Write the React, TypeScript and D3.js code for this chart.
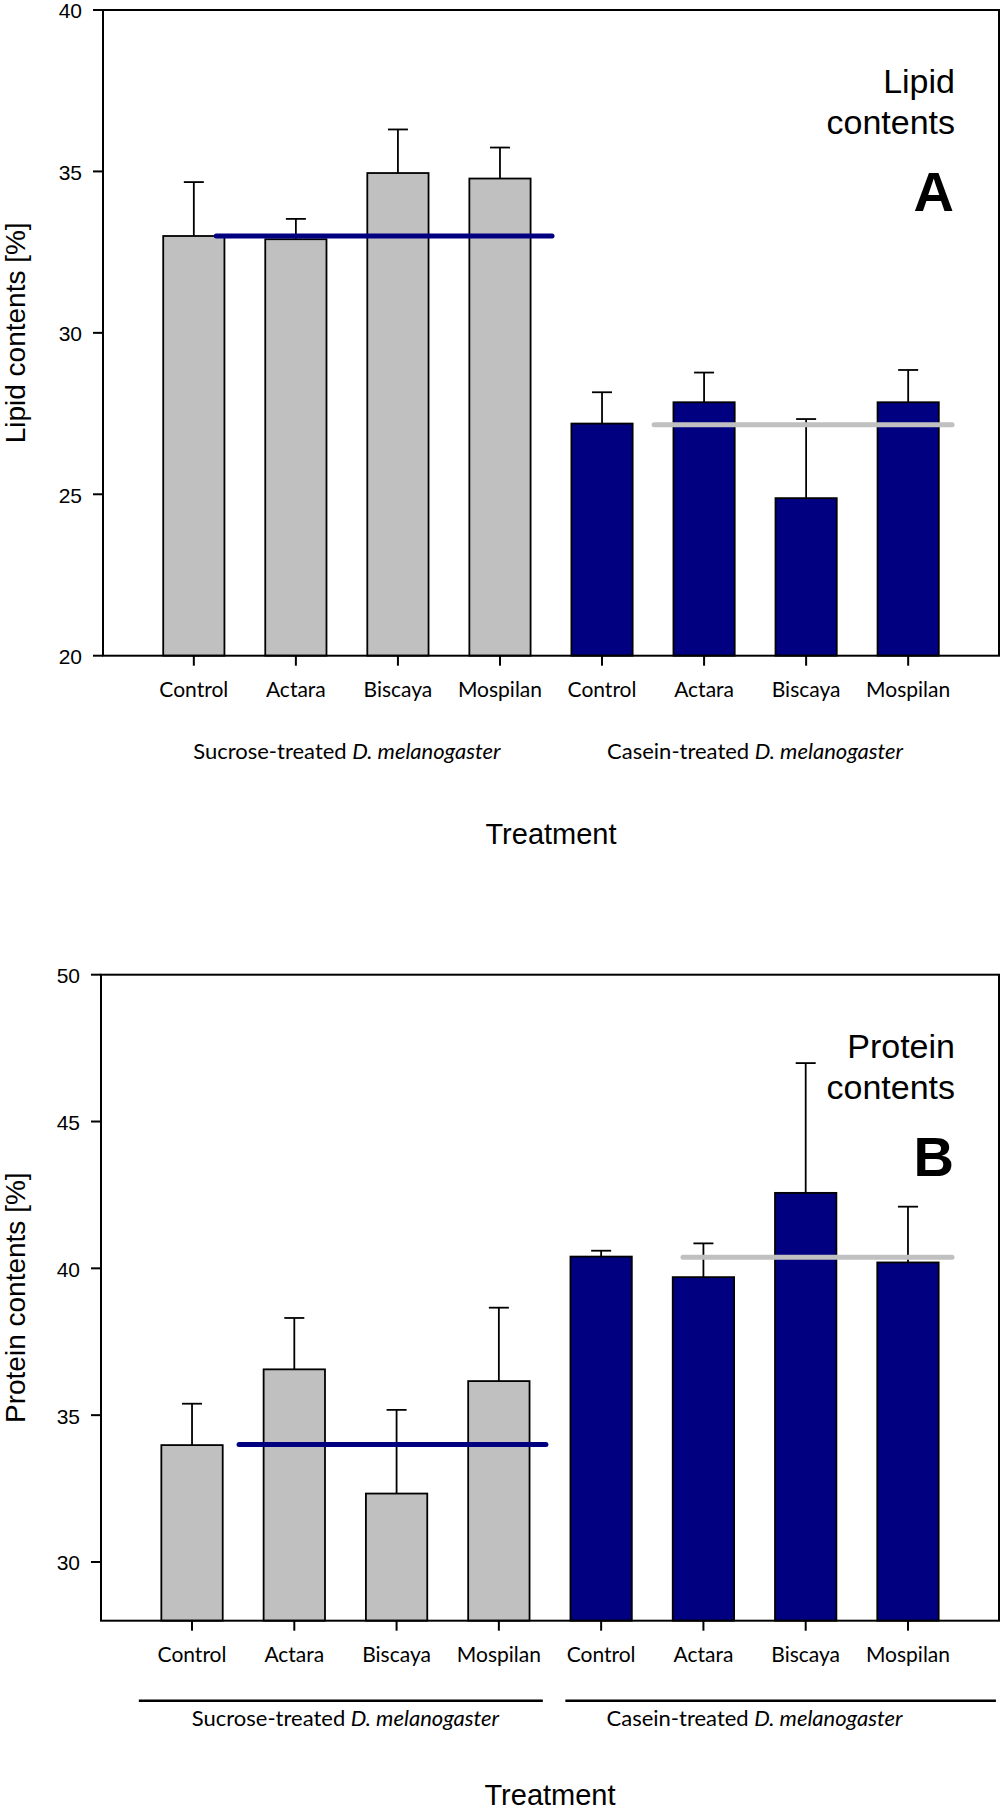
import React from "react";
import * as d3 from "d3";

// categories
const treatments = ["Control", "Actara", "Biscaya", "Mospilan"];
const dietGroups = ["Sucrose-treated", "Casein-treated"];
const categories = dietGroups.flatMap((g) => treatments.map((t) => `${g} ${t}`));

// panel A: lipid contents [%]
const lipidMeans = [33.0, 32.9, 34.95, 34.78, 27.19, 27.85, 24.88, 27.85];
const lipidUpper = [34.67, 33.53, 36.3, 35.74, 28.16, 28.77, 27.33, 28.85];
const lipidTicks = [20, 25, 30, 35, 40];
const lipidControlLines = [33.0, 27.15];

// panel B: protein contents [%]
const proteinMeans = [33.98, 36.56, 32.33, 36.16, 40.4, 39.7, 42.57, 40.2];
const proteinUpper = [35.39, 38.31, 35.18, 38.66, 40.6, 40.85, 46.99, 42.1];
const proteinTicks = [30, 35, 40, 45, 50];
const proteinControlLines = [34.0, 40.38];

const GREY = "#c0c0c0";
const NAVY = "#000080";
const ARIAL = "'Liberation Sans', Arial, sans-serif";
const CALIBRI = "Lato, 'Open Sans', sans-serif";

type PanelProps = {
  top: number;
  bottom: number;
  left: number;
  right: number;
  domain: [number, number];
  ticks: number[];
  means: number[];
  upper: number[];
  controlLines: number[];
  lineSpans: [number, number][]; // in steps relative to group's first / last bar centre
  yTitle: string;
  titleLines: string[];
  letter: string;
  groupRule: boolean;
  groupLabelDy: number;
  treatmentDy: number;
};

const Panel = (p: PanelProps) => {
  const x = d3
    .scaleBand<string>()
    .domain(categories)
    .range([p.left, p.right])
    .paddingInner(0.4)
    .paddingOuter(0.59);
  const step = x.step();
  const bw = x.bandwidth();
  const cx = (i: number) => (x(categories[i]) as number) + bw / 2;
  const y = d3.scaleLinear().domain(p.domain).range([p.bottom, p.top]);
  const base = y(p.domain[0]);
  const midY = (p.top + p.bottom) / 2;
  const midX = (p.left + p.right) / 2;

  const groupCentre = (g: number) => (cx(g * 4) + cx(g * 4 + 3)) / 2;
  const ruleSpans: [number, number][] = [
    [-0.52, 0.43],
    [-0.35, 0.86],
  ];

  return (
    <g>
      {/* bars */}
      {p.means.map((m, i) => (
        <rect
          key={`bar${i}`}
          x={x(categories[i])}
          y={y(m)}
          width={bw}
          height={base - y(m)}
          fill={i < 4 ? GREY : NAVY}
          stroke="#000"
          strokeWidth={1.8}
        />
      ))}
      {/* error bars (upper only) */}
      {p.upper.map((u, i) => (
        <g key={`err${i}`} stroke="#000" strokeWidth={1.8}>
          <line x1={cx(i)} x2={cx(i)} y1={y(p.means[i])} y2={y(u)} />
          <line x1={cx(i) - 10} x2={cx(i) + 10} y1={y(u)} y2={y(u)} />
        </g>
      ))}
      {/* control reference lines */}
      {p.controlLines.map((v, g) => (
        <line
          key={`ref${g}`}
          x1={cx(g * 4) + p.lineSpans[g][0] * step}
          x2={cx(g * 4 + 3) + p.lineSpans[g][1] * step}
          y1={y(v)}
          y2={y(v)}
          stroke={g === 0 ? NAVY : GREY}
          strokeWidth={5}
          strokeLinecap="round"
        />
      ))}
      {/* frame */}
      <rect
        x={p.left}
        y={p.top}
        width={p.right - p.left}
        height={p.bottom - p.top}
        fill="none"
        stroke="#000"
        strokeWidth={2}
      />
      {/* y ticks */}
      {p.ticks.map((t) => (
        <g key={`yt${t}`}>
          <line x1={p.left - 10} x2={p.left} y1={y(t)} y2={y(t)} stroke="#000" strokeWidth={2} />
          <text
            x={p.left - 21}
            y={y(t)}
            dy="0.4em"
            textAnchor="end"
            fontFamily={ARIAL}
            fontSize={21}
          >
            {t}
          </text>
        </g>
      ))}
      <text
        transform={`translate(25,${midY}) rotate(-90)`}
        textAnchor="middle"
        fontFamily={ARIAL}
        fontSize={28}
      >
        {p.yTitle}
      </text>
      {/* x ticks + labels */}
      {categories.map((c, i) => (
        <g key={`xt${i}`}>
          <line x1={cx(i)} x2={cx(i)} y1={p.bottom} y2={p.bottom + 10} stroke="#000" strokeWidth={2} />
          <text x={cx(i)} y={p.bottom + 41} textAnchor="middle" fontFamily={CALIBRI} fontSize={21}>
            {treatments[i % 4]}
          </text>
        </g>
      ))}
      {/* group labels */}
      {dietGroups.map((g, gi) => (
        <g key={`grp${gi}`}>
          {p.groupRule && (
            <line
              x1={cx(gi * 4) + ruleSpans[gi][0] * step}
              x2={cx(gi * 4 + 3) + ruleSpans[gi][1] * step}
              y1={p.bottom + 80}
              y2={p.bottom + 80}
              stroke="#000"
              strokeWidth={2.5}
            />
          )}
          <text
            x={groupCentre(gi)}
            y={p.bottom + p.groupLabelDy}
            textAnchor="middle"
            fontFamily={CALIBRI}
            fontSize={22}
          >
            {g} <tspan fontStyle="italic">D. melanogaster</tspan>
          </text>
        </g>
      ))}
      <text
        x={midX}
        y={p.bottom + p.treatmentDy}
        textAnchor="middle"
        fontFamily={ARIAL}
        fontSize={29}
      >
        Treatment
      </text>
      {/* panel title */}
      {p.titleLines.map((l, i) => (
        <text
          key={`tl${i}`}
          x={p.right - 44}
          y={p.top + 83 + i * 41}
          textAnchor="end"
          fontFamily={ARIAL}
          fontSize={34}
        >
          {l}
        </text>
      ))}
      <text
        x={p.right - 45}
        y={p.top + 201}
        textAnchor="end"
        fontFamily={ARIAL}
        fontWeight="bold"
        fontSize={56}
      >
        {p.letter}
      </text>
    </g>
  );
};

const App = () => {
  return (
    <svg
      width={1003}
      height={1813}
      style={{ position: "absolute", left: 0, top: 0, background: "#fff" }}
    >
      <Panel
        top={10}
        bottom={655.7}
        left={103}
        right={999}
        domain={[20, 40]}
        ticks={lipidTicks}
        means={lipidMeans}
        upper={lipidUpper}
        controlLines={lipidControlLines}
        lineSpans={[
          [0.22, 0.51],
          [0.51, 0.43],
        ]}
        yTitle="Lipid contents [%]"
        titleLines={["Lipid", "contents"]}
        letter="A"
        groupRule={false}
        groupLabelDy={103}
        treatmentDy={188}
      />
      <Panel
        top={974.7}
        bottom={1620.7}
        left={101}
        right={999}
        domain={[28, 50]}
        ticks={proteinTicks}
        means={proteinMeans}
        upper={proteinUpper}
        controlLines={proteinControlLines}
        lineSpans={[
          [0.46, 0.46],
          [0.8, 0.43],
        ]}
        yTitle="Protein contents [%]"
        titleLines={["Protein", "contents"]}
        letter="B"
        groupRule={true}
        groupLabelDy={105}
        treatmentDy={184}
      />
    </svg>
  );
};

export default App;
